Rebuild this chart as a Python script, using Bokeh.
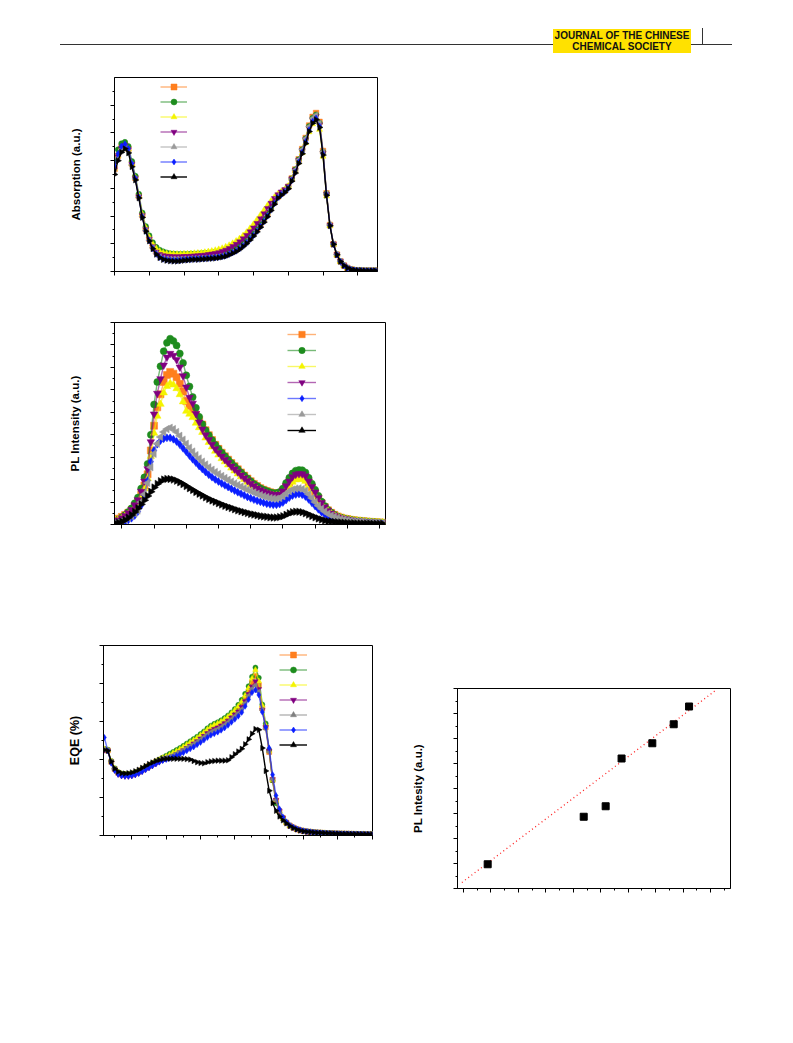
import math
from bokeh.plotting import figure
from bokeh.layouts import column, row
from bokeh.models import (Div, Legend, LegendItem, SingleIntervalTicker,
                          CustomJSTickFormatter, Range1d, Spacer)
from bokeh.core.properties import value
from bokeh.embed import file_html
from bokeh.resources import INLINE

# ---------------- data: absorption (wavelength grid, nm) ----------------
abs_nm = list(range(300, 685, 5))
abs_orange = [.370, .418, .448, .458, .443, .390, .338, .272, .203, .153,
              .118, .091, .072, .061, .055, .052, .051, .050, .050, .051,
              .052, .052, .053, .054, .055, .056, .057, .058, .059, .061,
              .063, .066, .069, .074, .079, .086, .094, .104, .115, .127,
              .141, .156, .172, .190, .209, .230, .251, .271, .282, .292,
              .306, .336, .368, .405, .442, .482, .527, .558, .572, .540,
              .435, .282, .168, .099, .061, .037, .022, .013, .008, .005,
              .004, .004, .003, .003, .003, .003, .003]
abs_green = [.395, .440, .462, .467, .452, .398, .345, .280, .212, .163,
             .130, .105, .088, .078, .072, .068, .065, .064, .063, .063,
             .063, .063, .064, .064, .065, .066, .067, .068, .069, .071,
             .073, .075, .078, .082, .087, .093, .100, .108, .118, .130,
             .143, .157, .173, .190, .209, .230, .251, .271, .283, .293,
             .307, .336, .368, .404, .440, .480, .524, .554, .566, .536,
             .432, .281, .168, .099, .061, .037, .022, .013, .008, .005,
             .004, .004, .003, .003, .003, .003, .003]
abs_yellow = [.372, .418, .446, .455, .441, .389, .338, .274, .207, .158,
              .124, .099, .083, .073, .068, .065, .064, .063, .063, .063,
              .064, .064, .065, .066, .067, .068, .070, .072, .074, .077,
              .080, .084, .089, .095, .102, .110, .119, .130, .142, .156,
              .171, .187, .204, .221, .238, .254, .268, .280, .289, .297,
              .309, .334, .362, .395, .428, .464, .503, .532, .546, .512,
              .415, .272, .164, .098, .060, .036, .022, .013, .007, .005,
              .004, .004, .003, .003, .003, .003, .003]
abs_purple = [.368, .414, .444, .455, .440, .387, .336, .270, .202, .152,
              .117, .090, .071, .062, .058, .056, .055, .054, .054, .054,
              .055, .055, .056, .057, .058, .059, .060, .062, .064, .066,
              .069, .073, .078, .084, .091, .099, .108, .119, .131, .144,
              .158, .174, .191, .209, .228, .247, .264, .278, .288, .296,
              .308, .335, .366, .402, .437, .476, .518, .548, .560, .530,
              .428, .279, .167, .099, .061, .037, .022, .013, .008, .005,
              .004, .004, .003, .003, .003, .003, .003]
abs_gray = [.360, .410, .440, .450, .436, .384, .334, .268, .198, .148,
            .113, .086, .066, .054, .048, .046, .045, .045, .045, .045,
            .046, .046, .047, .047, .048, .048, .049, .050, .051, .052,
            .054, .056, .059, .064, .070, .076, .084, .094, .105, .118,
            .132, .147, .164, .182, .202, .224, .247, .268, .280, .290,
            .304, .334, .366, .403, .440, .480, .523, .553, .565, .535,
            .432, .281, .168, .099, .061, .037, .022, .013, .008, .005,
            .004, .004, .003, .003, .003, .003, .003]
abs_blue = [.380, .425, .452, .460, .444, .390, .336, .268, .197, .146,
            .111, .083, .063, .051, .045, .042, .041, .040, .040, .041,
            .042, .043, .044, .045, .045, .046, .047, .048, .049, .050,
            .052, .054, .057, .062, .068, .074, .082, .092, .103, .116,
            .130, .145, .162, .180, .200, .222, .245, .266, .277, .287,
            .300, .328, .358, .394, .430, .468, .511, .541, .553, .524,
            .424, .277, .166, .098, .060, .036, .022, .013, .007, .005,
            .004, .004, .003, .003, .003, .003, .003]
abs_black = [.350, .400, .430, .443, .428, .378, .330, .265, .195, .145,
             .110, .082, .062, .050, .043, .040, .038, .037, .037, .038,
             .040, .041, .042, .043, .043, .044, .045, .046, .047, .048,
             .050, .052, .055, .060, .066, .072, .080, .090, .101, .114,
             .128, .143, .160, .178, .198, .220, .243, .265, .276, .286,
             .299, .326, .355, .390, .425, .462, .505, .535, .548, .520,
             .420, .275, .165, .098, .060, .036, .022, .013, .007, .005,
             .004, .004, .003, .003, .003, .003, .003]

# ---------------- data: PL spectra ----------------
pl_nm = list(range(440, 860, 5))
pl_orange = [0.20, 0.26, 0.34, 0.42, 0.52, 0.65, 0.82, 1.02, 1.33, 1.74,
             2.24, 3.30, 4.40, 5.22, 5.80, 6.35, 6.66, 6.80, 6.72, 6.56,
             6.27, 5.93, 5.50, 5.29, 5.11, 4.89, 4.66, 4.45, 4.20, 3.98,
             3.76, 3.55, 3.37, 3.20, 3.04, 2.89, 2.74, 2.60, 2.46, 2.32,
             2.18, 2.05, 1.93, 1.81, 1.71, 1.62, 1.55, 1.49, 1.44, 1.40,
             1.38, 1.40, 1.50, 1.68, 1.88, 2.05, 2.16, 2.19, 2.18, 2.09,
             1.88, 1.65, 1.41, 1.18, 0.96, 0.78, 0.63, 0.52, 0.43, 0.36,
             0.31, 0.27, 0.24, 0.21, 0.19, 0.17, 0.16, 0.15, 0.13, 0.12,
             0.11, 0.10, 0.09, 0.08]
pl_green = [0.15, 0.22, 0.32, 0.42, 0.56, 0.72, 0.95, 1.20, 1.60, 2.10,
            2.70, 4.00, 5.35, 6.35, 7.05, 7.72, 8.10, 8.28, 8.18, 7.98,
            7.62, 7.20, 6.65, 6.15, 5.68, 5.20, 4.80, 4.47, 4.20, 3.98,
            3.76, 3.55, 3.37, 3.20, 3.04, 2.89, 2.74, 2.60, 2.46, 2.32,
            2.18, 2.05, 1.93, 1.81, 1.71, 1.62, 1.55, 1.49, 1.44, 1.40,
            1.40, 1.45, 1.60, 1.85, 2.08, 2.28, 2.40, 2.43, 2.42, 2.32,
            2.08, 1.82, 1.55, 1.28, 1.02, 0.82, 0.65, 0.53, 0.43, 0.36,
            0.31, 0.27, 0.24, 0.21, 0.19, 0.17, 0.16, 0.15, 0.13, 0.12,
            0.11, 0.10, 0.09, 0.08]
pl_yellow = [0.18, 0.24, 0.30, 0.37, 0.46, 0.57, 0.74, 0.93, 1.22, 1.60,
             2.05, 3.04, 4.07, 4.83, 5.36, 5.87, 6.16, 6.29, 6.22, 6.06,
             5.79, 5.47, 5.05, 4.92, 4.77, 4.52, 4.32, 4.11, 3.86, 3.66,
             3.46, 3.27, 3.10, 2.94, 2.80, 2.66, 2.52, 2.39, 2.26, 2.13,
             2.01, 1.89, 1.78, 1.67, 1.57, 1.49, 1.43, 1.37, 1.32, 1.29,
             1.28, 1.28, 1.38, 1.55, 1.73, 1.89, 1.99, 2.02, 2.01, 1.93,
             1.73, 1.51, 1.29, 1.07, 0.88, 0.72, 0.59, 0.49, 0.41, 0.34,
             0.30, 0.26, 0.23, 0.20, 0.18, 0.16, 0.15, 0.14, 0.12, 0.11,
             0.10, 0.10, 0.09, 0.08]
pl_purple = [0.14, 0.20, 0.29, 0.39, 0.52, 0.66, 0.87, 1.10, 1.47, 1.93,
             2.48, 3.68, 4.92, 5.84, 6.49, 7.10, 7.45, 7.62, 7.53, 7.34,
             7.01, 6.62, 6.12, 5.66, 5.40, 4.94, 4.56, 4.25, 3.99, 3.78,
             3.57, 3.37, 3.20, 3.04, 2.89, 2.75, 2.60, 2.47, 2.34, 2.20,
             2.07, 1.95, 1.83, 1.72, 1.62, 1.54, 1.47, 1.42, 1.37, 1.33,
             1.33, 1.35, 1.49, 1.72, 1.93, 2.12, 2.23, 2.26, 2.25, 2.16,
             1.93, 1.69, 1.44, 1.19, 0.97, 0.78, 0.62, 0.50, 0.41, 0.34,
             0.29, 0.26, 0.23, 0.20, 0.18, 0.16, 0.15, 0.14, 0.12, 0.11,
             0.10, 0.09, 0.08, 0.08]
pl_blue = [0.03, 0.05, 0.08, 0.13, 0.20, 0.28, 0.40, 0.58, 0.85, 1.30,
           1.95, 2.80, 3.30, 3.58, 3.74, 3.82, 3.86, 3.86, 3.80, 3.70,
           3.56, 3.40, 3.24, 3.07, 2.91, 2.76, 2.61, 2.47, 2.34, 2.22,
           2.11, 2.01, 1.92, 1.83, 1.75, 1.67, 1.59, 1.51, 1.44, 1.37,
           1.30, 1.23, 1.17, 1.11, 1.06, 1.01, 0.97, 0.93, 0.90, 0.88,
           0.88, 0.91, 0.98, 1.09, 1.20, 1.29, 1.34, 1.36, 1.33, 1.25,
           1.12, 0.97, 0.82, 0.68, 0.55, 0.45, 0.37, 0.30, 0.25, 0.21,
           0.18, 0.15, 0.13, 0.12, 0.10, 0.09, 0.08, 0.07, 0.06, 0.05,
           0.05, 0.04, 0.04, 0.03]
pl_gray = [0.08, 0.11, 0.16, 0.22, 0.29, 0.37, 0.49, 0.62, 1.00, 1.35,
           1.85, 2.55, 3.15, 3.60, 3.90, 4.12, 4.25, 4.31, 4.25, 4.12,
           3.95, 3.78, 3.60, 3.42, 3.25, 3.09, 2.94, 2.80, 2.67, 2.55,
           2.44, 2.34, 2.25, 2.16, 2.07, 1.99, 1.91, 1.83, 1.76, 1.69,
           1.62, 1.55, 1.49, 1.43, 1.37, 1.31, 1.26, 1.22, 1.18, 1.16,
           1.15, 1.18, 1.26, 1.38, 1.48, 1.56, 1.60, 1.61, 1.58, 1.50,
           1.35, 1.18, 1.00, 0.84, 0.70, 0.58, 0.48, 0.40, 0.34, 0.29,
           0.25, 0.22, 0.19, 0.17, 0.15, 0.14, 0.13, 0.12, 0.10, 0.10,
           0.09, 0.08, 0.07, 0.06]
pl_black = [0.05, 0.08, 0.13, 0.20, 0.30, 0.42, 0.56, 0.72, 0.90, 1.08,
            1.27, 1.46, 1.65, 1.81, 1.93, 2.00, 2.03, 2.03, 2.00, 1.95,
            1.88, 1.80, 1.71, 1.62, 1.54, 1.45, 1.37, 1.29, 1.21, 1.14,
            1.07, 1.01, 0.95, 0.89, 0.83, 0.78, 0.73, 0.68, 0.63, 0.59,
            0.55, 0.51, 0.47, 0.44, 0.41, 0.38, 0.36, 0.34, 0.32, 0.31,
            0.31, 0.33, 0.37, 0.43, 0.50, 0.55, 0.57, 0.57, 0.55, 0.50,
            0.44, 0.38, 0.32, 0.27, 0.22, 0.18, 0.15, 0.13, 0.11, 0.10,
            0.09, 0.08, 0.07, 0.06, 0.06, 0.05, 0.05, 0.04, 0.04, 0.04,
            0.03, 0.03, 0.03, 0.03]

# ---------------- data: EQE spectra (%) ----------------
eqe_nm = list(range(220, 1010, 10))
eqe_orange = [22.6, 22.4, 19.4, 17.5, 16.5, 16.1, 16.0, 16.0, 16.1, 16.4,
              16.8, 17.3, 17.8, 18.3, 18.8, 19.3, 19.8, 20.3, 20.6, 20.9,
              21.3, 21.8, 22.3, 22.8, 23.4, 24.0, 24.6, 25.2, 25.9, 26.6,
              27.3, 27.9, 28.4, 28.8, 29.3, 29.9, 30.6, 31.4, 32.3, 33.1,
              34.3, 35.9, 37.8, 40.2, 42.0, 39.5, 33.5, 28.5, 22.0, 14.6,
              9.2, 6.4, 4.6, 3.4, 2.6, 2.1, 1.7, 1.4, 1.2, 1.05,
              0.95, 0.85, 0.78, 0.72, 0.66, 0.62, 0.58, 0.54, 0.51, 0.48,
              0.46, 0.44, 0.42, 0.40, 0.38, 0.37, 0.36, 0.35, 0.34]
eqe_green = [22.8, 22.6, 19.6, 17.7, 16.7, 16.3, 16.2, 16.2, 16.3, 16.6,
             17.0, 17.5, 18.0, 18.5, 19.0, 19.5, 20.0, 20.5, 21.0, 21.5,
             22.0, 22.5, 23.0, 23.6, 24.2, 24.8, 25.4, 26.0, 26.7, 27.4,
             28.2, 28.9, 29.4, 29.8, 30.3, 30.9, 31.6, 32.4, 33.3, 34.4,
             35.7, 37.3, 39.3, 41.8, 44.2, 41.5, 34.5, 29.5, 22.5, 14.5,
             8.5, 6.0, 4.4, 3.4, 2.6, 2.1, 1.7, 1.4, 1.2, 1.05,
             0.95, 0.85, 0.78, 0.72, 0.66, 0.62, 0.58, 0.54, 0.51, 0.48,
             0.46, 0.44, 0.42, 0.40, 0.38, 0.37, 0.36, 0.35, 0.34]
eqe_yellow = [22.7, 22.5, 19.5, 17.6, 16.6, 16.2, 16.1, 16.1, 16.2, 16.5,
              16.9, 17.4, 17.9, 18.4, 18.9, 19.4, 19.9, 20.4, 20.8, 21.2,
              21.7, 22.2, 22.7, 23.3, 23.9, 24.5, 25.1, 25.7, 26.4, 27.1,
              27.9, 28.6, 29.1, 29.5, 30.0, 30.6, 31.3, 32.1, 33.0, 34.0,
              35.2, 36.8, 38.8, 41.3, 43.6, 40.6, 34.2, 29.0, 22.2, 14.6,
              9.1, 6.3, 4.5, 3.4, 2.6, 2.1, 1.7, 1.4, 1.2, 1.05,
              0.95, 0.85, 0.78, 0.72, 0.66, 0.62, 0.58, 0.54, 0.51, 0.48,
              0.46, 0.44, 0.42, 0.40, 0.38, 0.37, 0.36, 0.35, 0.34]
eqe_purple = [22.5, 22.3, 19.2, 17.2, 16.1, 15.7, 15.6, 15.6, 15.7, 16.0,
              16.4, 16.9, 17.4, 17.9, 18.4, 18.9, 19.4, 19.9, 20.2, 20.5,
              20.9, 21.4, 21.9, 22.4, 23.0, 23.6, 24.2, 24.8, 25.5, 26.2,
              26.9, 27.5, 28.0, 28.4, 28.9, 29.5, 30.2, 31.0, 31.8, 32.6,
              33.8, 35.3, 37.2, 39.2, 40.6, 38.5, 33.0, 28.5, 22.3, 14.8,
              9.3, 6.4, 4.6, 3.4, 2.6, 2.1, 1.7, 1.4, 1.2, 1.05,
              0.95, 0.85, 0.78, 0.72, 0.66, 0.62, 0.58, 0.54, 0.51, 0.48,
              0.46, 0.44, 0.42, 0.40, 0.38, 0.37, 0.36, 0.35, 0.34]
eqe_gray = [22.6, 22.4, 19.4, 17.5, 16.5, 16.1, 16.0, 16.0, 16.1, 16.4,
            16.8, 17.3, 17.8, 18.3, 18.8, 19.3, 19.8, 20.3, 20.5, 20.8,
            21.1, 21.5, 22.0, 22.4, 23.0, 23.5, 24.0, 24.6, 25.2, 25.9,
            26.6, 27.2, 27.6, 28.0, 28.5, 29.1, 29.8, 30.6, 31.4, 32.2,
            33.2, 34.8, 36.8, 38.6, 39.5, 37.8, 33.0, 28.0, 22.0, 14.8,
            9.3, 6.5, 4.6, 3.4, 2.6, 2.1, 1.7, 1.4, 1.2, 1.05,
            0.95, 0.85, 0.78, 0.72, 0.66, 0.62, 0.58, 0.54, 0.51, 0.48,
            0.46, 0.44, 0.42, 0.40, 0.38, 0.37, 0.36, 0.35, 0.34]
eqe_blue = [25.8, 22.3, 19.0, 17.1, 16.1, 15.7, 15.6, 15.6, 15.7, 16.0,
            16.3, 16.8, 17.3, 17.8, 18.3, 18.8, 19.3, 19.7, 20.0, 20.3,
            20.6, 21.0, 21.4, 21.8, 22.3, 22.8, 23.3, 23.9, 24.5, 25.1,
            25.8, 26.4, 26.8, 27.2, 27.7, 28.3, 29.0, 29.8, 30.6, 31.4,
            32.4, 34.0, 35.8, 37.6, 38.3, 37.0, 32.5, 28.5, 23.0, 16.0,
            10.5, 7.0, 4.9, 3.6, 2.7, 2.2, 1.8, 1.5, 1.25, 1.1,
            0.97, 0.87, 0.79, 0.73, 0.67, 0.62, 0.58, 0.54, 0.51, 0.48,
            0.46, 0.44, 0.42, 0.40, 0.38, 0.37, 0.36, 0.35, 0.34]
eqe_black = [22.5, 22.3, 19.5, 17.6, 16.8, 16.4, 16.3, 16.4, 16.6, 16.9,
             17.3, 17.8, 18.3, 18.8, 19.2, 19.6, 19.9, 20.1, 20.2, 20.2,
             20.2, 20.2, 20.2, 20.2, 20.1, 20.0, 19.6, 19.3, 19.1, 19.0,
             19.3, 19.5, 19.6, 19.7, 19.7, 19.7, 19.8, 20.6, 21.4, 22.1,
             22.8, 24.0, 25.3, 26.8, 28.0, 27.8, 23.0, 17.0, 11.8, 8.5,
             6.5, 5.0, 4.0, 3.2, 2.5, 2.0, 1.6, 1.3, 1.1, 1.0,
             0.90, 0.82, 0.75, 0.70, 0.65, 0.60, 0.56, 0.53, 0.50, 0.47,
             0.45, 0.43, 0.41, 0.39, 0.37, 0.36, 0.35, 0.34, 0.33]

# ---------------- data: PL intensity scatter + fit ----------------
sc_x = [0.88, 4.38, 5.18, 5.76, 6.88, 7.66, 8.22]
sc_y = [0.97, 2.87, 3.29, 5.20, 5.81, 6.57, 7.28]
fit_x = [-0.06, 9.17]
fit_y = [0.24, 7.91]

# ---------------- series styles ----------------
ORANGE, GREEN, YELLOW, PURPLE = "#FF7F1E", "#1E8C1E", "#F4F400", "#800080"
GRAY, BLUE, BLACK = "#9A9A9A", "#0A1EFF", "#000000"
TL, TR = math.pi / 2, -math.pi / 2


def base_fig(fw, fh, left, top, bottom, right, xr, yr):
    p = figure(frame_width=fw, frame_height=fh, min_border_left=left,
               min_border_top=top, min_border_bottom=bottom,
               min_border_right=right, x_range=Range1d(*xr),
               y_range=Range1d(*yr), output_backend="svg",
               toolbar_location=None, background_fill_color="white",
               border_fill_color="white")
    p.outline_line_color = "black"
    p.outline_line_width = 1
    p.xgrid.visible = False
    p.ygrid.visible = False
    return p


def style_axes(p, xint, xminor, yint, yminor, label, standoff, size):
    p.xaxis.ticker = SingleIntervalTicker(interval=xint, num_minor_ticks=max(xminor, 1))
    p.yaxis.ticker = SingleIntervalTicker(interval=yint, num_minor_ticks=max(yminor, 1))
    for ax, mn in ((p.xaxis[0], xminor), (p.yaxis[0], yminor)):
        ax.formatter = CustomJSTickFormatter(code="return ''")
        ax.major_label_standoff = 0
        ax.axis_line_color = "black"
        ax.axis_line_width = 1
        ax.major_tick_line_color = "black"
        ax.major_tick_out = 4
        ax.major_tick_in = 0
        ax.minor_tick_out = 2
        ax.minor_tick_in = 0
        ax.minor_tick_line_color = "black" if mn > 1 else None
    p.yaxis.axis_label = label
    p.yaxis.axis_label_standoff = standoff
    p.yaxis.axis_label_text_font = "Liberation Sans"
    p.yaxis.axis_label_text_font_style = "bold"
    p.yaxis.axis_label_text_font_size = size
    p.yaxis.axis_label_text_color = "black"


def add_series(p, xs, ys, color, marker, size, angle=0.0, lalpha=0.6):
    ln = p.line(xs, ys, line_color=color, line_width=1.4, line_alpha=lalpha)
    sc = p.scatter(xs, ys, marker=marker, size=size, angle=angle,
                   fill_color=color, line_color=color, line_width=0.5)
    return [ln, sc]


def add_legend(p, groups, loc, gw, gh):
    items = [LegendItem(label=value(" "), renderers=g) for g in groups]
    leg = Legend(items=items, location=loc, orientation="vertical",
                 glyph_width=gw, glyph_height=gh, label_height=gh,
                 label_width=1, label_standoff=0, spacing=0, padding=0,
                 margin=0, border_line_color=None, background_fill_alpha=0,
                 label_text_font_size="9px")
    p.add_layout(leg)


# ---------------- header ----------------
header_html = """
<div style="position:relative;width:785px;height:60px;margin:0;padding:0;">
  <div style="position:absolute;left:60px;top:44px;width:672px;height:0;border-top:1.6px solid #333;"></div>
  <div style="position:absolute;left:702px;top:28px;width:0;height:17px;border-left:1.6px solid #333;"></div>
  <div style="position:absolute;left:553px;top:29px;width:138px;height:24px;background:#FFE100;
       font-family:'Liberation Sans',Arial,sans-serif;font-weight:bold;font-size:10px;line-height:11px;
       color:#111;text-align:center;padding-top:1px;box-sizing:border-box;">JOURNAL OF THE CHINESE<br>CHEMICAL SOCIETY</div>
</div>
"""
header = Div(text=header_html, width=785, height=60, margin=(0, 0, 0, 0))

# ---------------- absorption ----------------
p_abs = base_fig(263, 194, 114, 17, 29, 20, (300, 678.4), (0, 0.7))
style_axes(p_abs, 50, 0, 0.1, 2, "Absorption (a.u.)", 29, "11.5px")
g_abs = [
    add_series(p_abs, abs_nm, abs_orange, ORANGE, "square", 5.5),
    add_series(p_abs, abs_nm, abs_green, GREEN, "circle", 5.5),
    add_series(p_abs, abs_nm, abs_yellow, YELLOW, "triangle", 6),
    add_series(p_abs, abs_nm, abs_purple, PURPLE, "inverted_triangle", 6),
    add_series(p_abs, abs_nm, abs_gray, GRAY, "triangle", 6, TL),
    add_series(p_abs, abs_nm, abs_blue, BLUE, "diamond", 6.5),
    add_series(p_abs, abs_nm, abs_black, BLACK, "triangle", 6, TR, 1.0),
]
add_legend(p_abs, g_abs, (46, 87), 27, 15)

# ---------------- PL ----------------
p_pl = base_fig(271, 202, 109, 22, 76, 20, (438.6, 859.3), (0, 9))
style_axes(p_pl, 50, 0, 1, 2, "PL Intensity (a.u.)", 30, "11.5px")
g_pl = [
    add_series(p_pl, pl_nm, pl_orange, ORANGE, "square", 7),
    add_series(p_pl, pl_nm, pl_green, GREEN, "circle", 7),
    add_series(p_pl, pl_nm, pl_yellow, YELLOW, "triangle", 7.5),
    add_series(p_pl, pl_nm, pl_purple, PURPLE, "inverted_triangle", 7.5),
    add_series(p_pl, pl_nm, pl_blue, BLUE, "diamond", 8),
    add_series(p_pl, pl_nm, pl_gray, GRAY, "triangle", 7.5, TL),
    add_series(p_pl, pl_nm, pl_black, BLACK, "triangle", 7.5, TR, 1.0),
]
add_legend(p_pl, g_pl, (173, 86), 29, 16)

# ---------------- EQE ----------------
p_eqe = base_fig(269, 190, 103, 45, 20, 20, (217.5, 1001), (0, 50))
style_axes(p_eqe, 100, 2, 10, 2, "EQE (%)", 18, "12.5px")
g_eqe = [
    add_series(p_eqe, eqe_nm, eqe_orange, ORANGE, "square", 5),
    add_series(p_eqe, eqe_nm, eqe_green, GREEN, "circle", 5),
    add_series(p_eqe, eqe_nm, eqe_yellow, YELLOW, "triangle", 5.5),
    add_series(p_eqe, eqe_nm, eqe_purple, PURPLE, "inverted_triangle", 5.5),
    add_series(p_eqe, eqe_nm, eqe_gray, "#808080", "triangle", 5.5, TL),
    add_series(p_eqe, eqe_nm, eqe_blue, BLUE, "diamond", 6),
    add_series(p_eqe, eqe_nm, eqe_black, BLACK, "triangle", 5.5, TR, 1.0),
]
add_legend(p_eqe, g_eqe, (176, 83), 28, 15)

# ---------------- scatter ----------------
p_sc = base_fig(273, 200, 65, 45, 20, 20, (-0.22, 9.73), (0, 8))
style_axes(p_sc, 1, 2, 1, 2, "PL Intesity (a.u.)", 30, "11.5px")
p_sc.line(fit_x, fit_y, line_color="#FF2020", line_width=1.3, line_dash="1 3")
p_sc.scatter(sc_x, sc_y, marker="square", size=7, fill_color="black",
             line_color="black")

right_col = column(Spacer(width=10, height=43), p_sc)
layout = column(header, p_abs, p_pl, row(p_eqe, right_col))

with open("out.html", "w") as f:
    f.write(file_html(layout, INLINE))
